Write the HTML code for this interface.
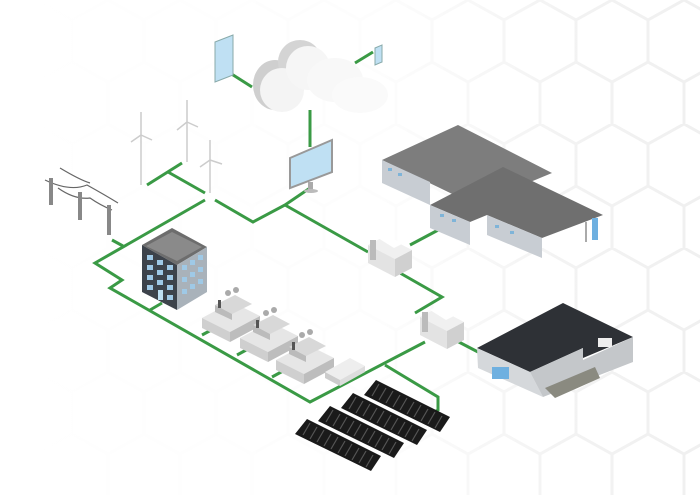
<!DOCTYPE html>
<html><head><meta charset="utf-8"><style>
html,body{margin:0;padding:0;background:#fff;}
svg{display:block;}
</style></head><body>
<svg width="700" height="495" viewBox="0 0 700 495" xmlns="http://www.w3.org/2000/svg">
<defs>
<pattern id="hex" width="72" height="124" patternUnits="userSpaceOnUse">
<path d="M36 0 L72 20 L72 62 L36 82 L0 62 L0 20 Z M36 82 L36 124" fill="none" stroke="#f0f0f0" stroke-width="3"/>
</pattern>
<linearGradient id="fade" x1="0" y1="0" x2="1" y2="0">
<stop offset="0" stop-color="#fff" stop-opacity="1"/>
<stop offset="0.55" stop-color="#fff" stop-opacity="0.85"/>
<stop offset="0.8" stop-color="#fff" stop-opacity="0.2"/>
<stop offset="1" stop-color="#fff" stop-opacity="0"/>
</linearGradient>
</defs>
<rect width="700" height="495" fill="#fff"/>
<rect width="700" height="495" fill="url(#hex)"/>
<rect width="700" height="495" fill="url(#fade)"/>

<g fill="none" stroke="#3a9a45" stroke-width="3" stroke-linejoin="miter">
<polyline points="205,200 95,263 122,280 110,288 310,402 425,342"/>
<polyline points="385,365 438,397 438,410 420,420"/>
<polyline points="215,200 253,222 285,205 310,188"/>
<line x1="285" y1="205" x2="368" y2="252"/>
<line x1="410" y1="245" x2="442" y2="228"/>
<polyline points="400,273 442,297 415,313"/>
<line x1="455" y1="340" x2="478" y2="352"/>
<line x1="150" y1="310" x2="162" y2="303"/>
<line x1="202" y1="335" x2="215" y2="328"/>
<line x1="237" y1="355" x2="248" y2="349"/>
<line x1="272" y1="377" x2="283" y2="371"/>
<line x1="112" y1="240" x2="123" y2="246"/>
<line x1="147" y1="185" x2="182" y2="163"/>
<line x1="168" y1="172" x2="205" y2="193"/>
<line x1="310" y1="110" x2="310" y2="147"/>
<line x1="230" y1="73" x2="252" y2="87"/>
<line x1="355" y1="63" x2="373" y2="52"/>
</g>

<g>
<ellipse cx="275" cy="85" rx="22" ry="25" fill="#cfcfcf"/>
<ellipse cx="300" cy="62" rx="22" ry="22" fill="#d4d4d4"/>
<ellipse cx="282" cy="90" rx="22" ry="22" fill="#f4f4f4"/>
<ellipse cx="308" cy="68" rx="22" ry="22" fill="#f6f6f6"/>
<ellipse cx="335" cy="80" rx="28" ry="22" fill="#f8f8f8"/>
<ellipse cx="360" cy="95" rx="28" ry="18" fill="#fafafa"/>
</g>
<polygon points="215,42 233,35 233,75 215,82" fill="#bfe0f3" stroke="#8aa" stroke-width="1"/>
<polygon points="375,48 382,45 382,62 375,65" fill="#bfe0f3" stroke="#8aa" stroke-width="1"/>
<polygon points="290,158 332,140 332,172 290,188" fill="#bfe0f3" stroke="#999" stroke-width="2"/>
<rect x="308" y="182" width="5" height="8" fill="#aaa"/>
<ellipse cx="311" cy="191" rx="7" ry="2" fill="#bbb"/>

<g stroke="#ccc" stroke-width="1.5" fill="none">
<line x1="141" y1="185" x2="141" y2="135"/><path d="M141 135 L141 112 M141 135 L131 142 M141 135 L152 140"/>
<line x1="187" y1="162" x2="187" y2="122"/><path d="M187 122 L187 100 M187 122 L177 130 M187 122 L198 127"/>
<line x1="210" y1="193" x2="210" y2="160"/><path d="M210 160 L210 140 M210 160 L200 167 M210 160 L222 164"/>
</g>

<g stroke="#666" stroke-width="1.2" fill="none">
<path d="M45 180 Q70 192 87 185 Q105 195 118 203"/>
<path d="M60 168 Q80 180 90 183"/>
<path d="M58 188 Q75 200 90 198 Q100 205 112 210"/>
</g>
<g fill="#888">
<rect x="49" y="178" width="4" height="27"/>
<rect x="78" y="192" width="4" height="28"/>
<rect x="107" y="205" width="4" height="30"/>
</g>

<polygon points="142,245 172,228 207,247 177,265" fill="#6d6d6d"/>
<polygon points="146,246 172,232 202,247 177,261" fill="#8a8a8a"/>
<polygon points="142,245 177,265 177,310 142,292" fill="#3d434b"/>
<polygon points="177,265 207,247 207,292 177,310" fill="#a9b2ba"/>
<g fill="#9fc9e6">
<rect x="147" y="255" width="6" height="5"/><rect x="157" y="260" width="6" height="5"/><rect x="167" y="265" width="6" height="5"/>
<rect x="147" y="265" width="6" height="5"/><rect x="157" y="270" width="6" height="5"/><rect x="167" y="275" width="6" height="5"/>
<rect x="147" y="275" width="6" height="5"/><rect x="157" y="280" width="6" height="5"/><rect x="167" y="285" width="6" height="5"/>
<rect x="147" y="285" width="6" height="5"/><rect x="167" y="295" width="6" height="5"/>
<rect x="158" y="290" width="5" height="10" fill="#bfe0f3"/>
<rect x="182" y="265" width="5" height="5"/><rect x="190" y="260" width="5" height="5"/><rect x="198" y="255" width="5" height="5"/>
<rect x="182" y="277" width="5" height="5"/><rect x="190" y="272" width="5" height="5"/><rect x="198" y="267" width="5" height="5"/>
<rect x="182" y="289" width="5" height="5"/><rect x="190" y="284" width="5" height="5"/><rect x="198" y="279" width="5" height="5"/>
</g>

<g>
<g id="gen">
<polygon points="202,318 232,302 260,316 230,332" fill="#e6e6e6"/>
<polygon points="202,318 230,332 230,342 202,328" fill="#cfcfcf"/>
<polygon points="230,332 260,316 260,326 230,342" fill="#bdbdbd"/>
<polygon points="215,305 235,295 252,304 232,314" fill="#d8d8d8"/>
<polygon points="215,305 232,314 232,320 215,312" fill="#bbb"/>
<circle cx="228" cy="293" r="3" fill="#aaa"/><circle cx="236" cy="290" r="3" fill="#aaa"/>
<rect x="218" y="300" width="3" height="8" fill="#555"/>
</g>
<use href="#gen" x="38" y="20"/>
<use href="#gen" x="74" y="42"/>
</g>
<polygon points="325,372 350,358 365,366 340,380" fill="#eee"/>
<polygon points="325,372 340,380 340,386 325,378" fill="#ccc"/>
<polygon points="340,380 365,366 365,372 340,386" fill="#ddd"/>

<g id="tr">
<polygon points="368,245 385,236 412,250 395,259" fill="#f0f0f0"/>
<polygon points="368,245 395,259 395,277 368,263" fill="#e3e3e3"/>
<polygon points="395,259 412,250 412,268 395,277" fill="#d0d0d0"/>
<rect x="370" y="240" width="6" height="20" fill="#bbb"/>
<polygon points="378,238 386,234 402,244 394,248" fill="#fff"/>
</g>
<use href="#tr" x="52" y="72"/>

<polygon points="382,160 458,125 552,173 475,205" fill="#7d7d7d"/>
<polygon points="382,160 430,182 430,205 382,183" fill="#c8cdd3"/>
<polygon points="430,205 503,167 603,215 542,238 487,215 470,222" fill="#6f6f6f"/>
<polygon points="430,205 470,222 470,245 430,228" fill="#c8cdd3"/>
<polygon points="487,215 542,238 542,258 487,235" fill="#c8cdd3"/>
<rect x="592" y="218" width="6" height="22" fill="#6fb0e0"/>
<rect x="585" y="222" width="2" height="20" fill="#aaa"/>
<g fill="#7fb4d8"><rect x="388" y="168" width="4" height="3"/><rect x="398" y="173" width="4" height="3"/><rect x="440" y="214" width="4" height="3"/><rect x="452" y="219" width="4" height="3"/><rect x="495" y="225" width="4" height="3"/><rect x="510" y="231" width="4" height="3"/></g>

<polygon points="477,348 563,303 633,337 583,358 583,348 530,372" fill="#2e3136"/>
<polygon points="477,348 530,372 543,397 478,368" fill="#d5d8db"/>
<polygon points="530,372 583,348 583,360 633,337 633,362 543,397" fill="#c4c7ca"/>
<polygon points="545,388 595,367 600,378 555,398" fill="#8a8a80"/>
<rect x="492" y="367" width="17" height="12" fill="#6fb0e0"/>
<rect x="598" y="338" width="14" height="9" fill="#eee"/>

<g id="row">
<polygon points="376,380 450,417 440,432 364,395" fill="#1a1a1a"/>
<g stroke="#555" stroke-width="1.2">
<line x1="379" y1="384" x2="372" y2="396"/><line x1="386" y1="388" x2="379" y2="400"/><line x1="393" y1="391" x2="386" y2="403"/><line x1="400" y1="395" x2="393" y2="407"/><line x1="407" y1="398" x2="400" y2="410"/><line x1="414" y1="402" x2="407" y2="414"/><line x1="421" y1="405" x2="414" y2="417"/><line x1="428" y1="409" x2="421" y2="421"/><line x1="435" y1="412" x2="428" y2="424"/><line x1="442" y1="416" x2="435" y2="428"/>
</g>
</g>
<use href="#row" x="-23" y="13"/>
<use href="#row" x="-46" y="26"/>
<use href="#row" x="-69" y="39"/>
</svg>
</body></html>
